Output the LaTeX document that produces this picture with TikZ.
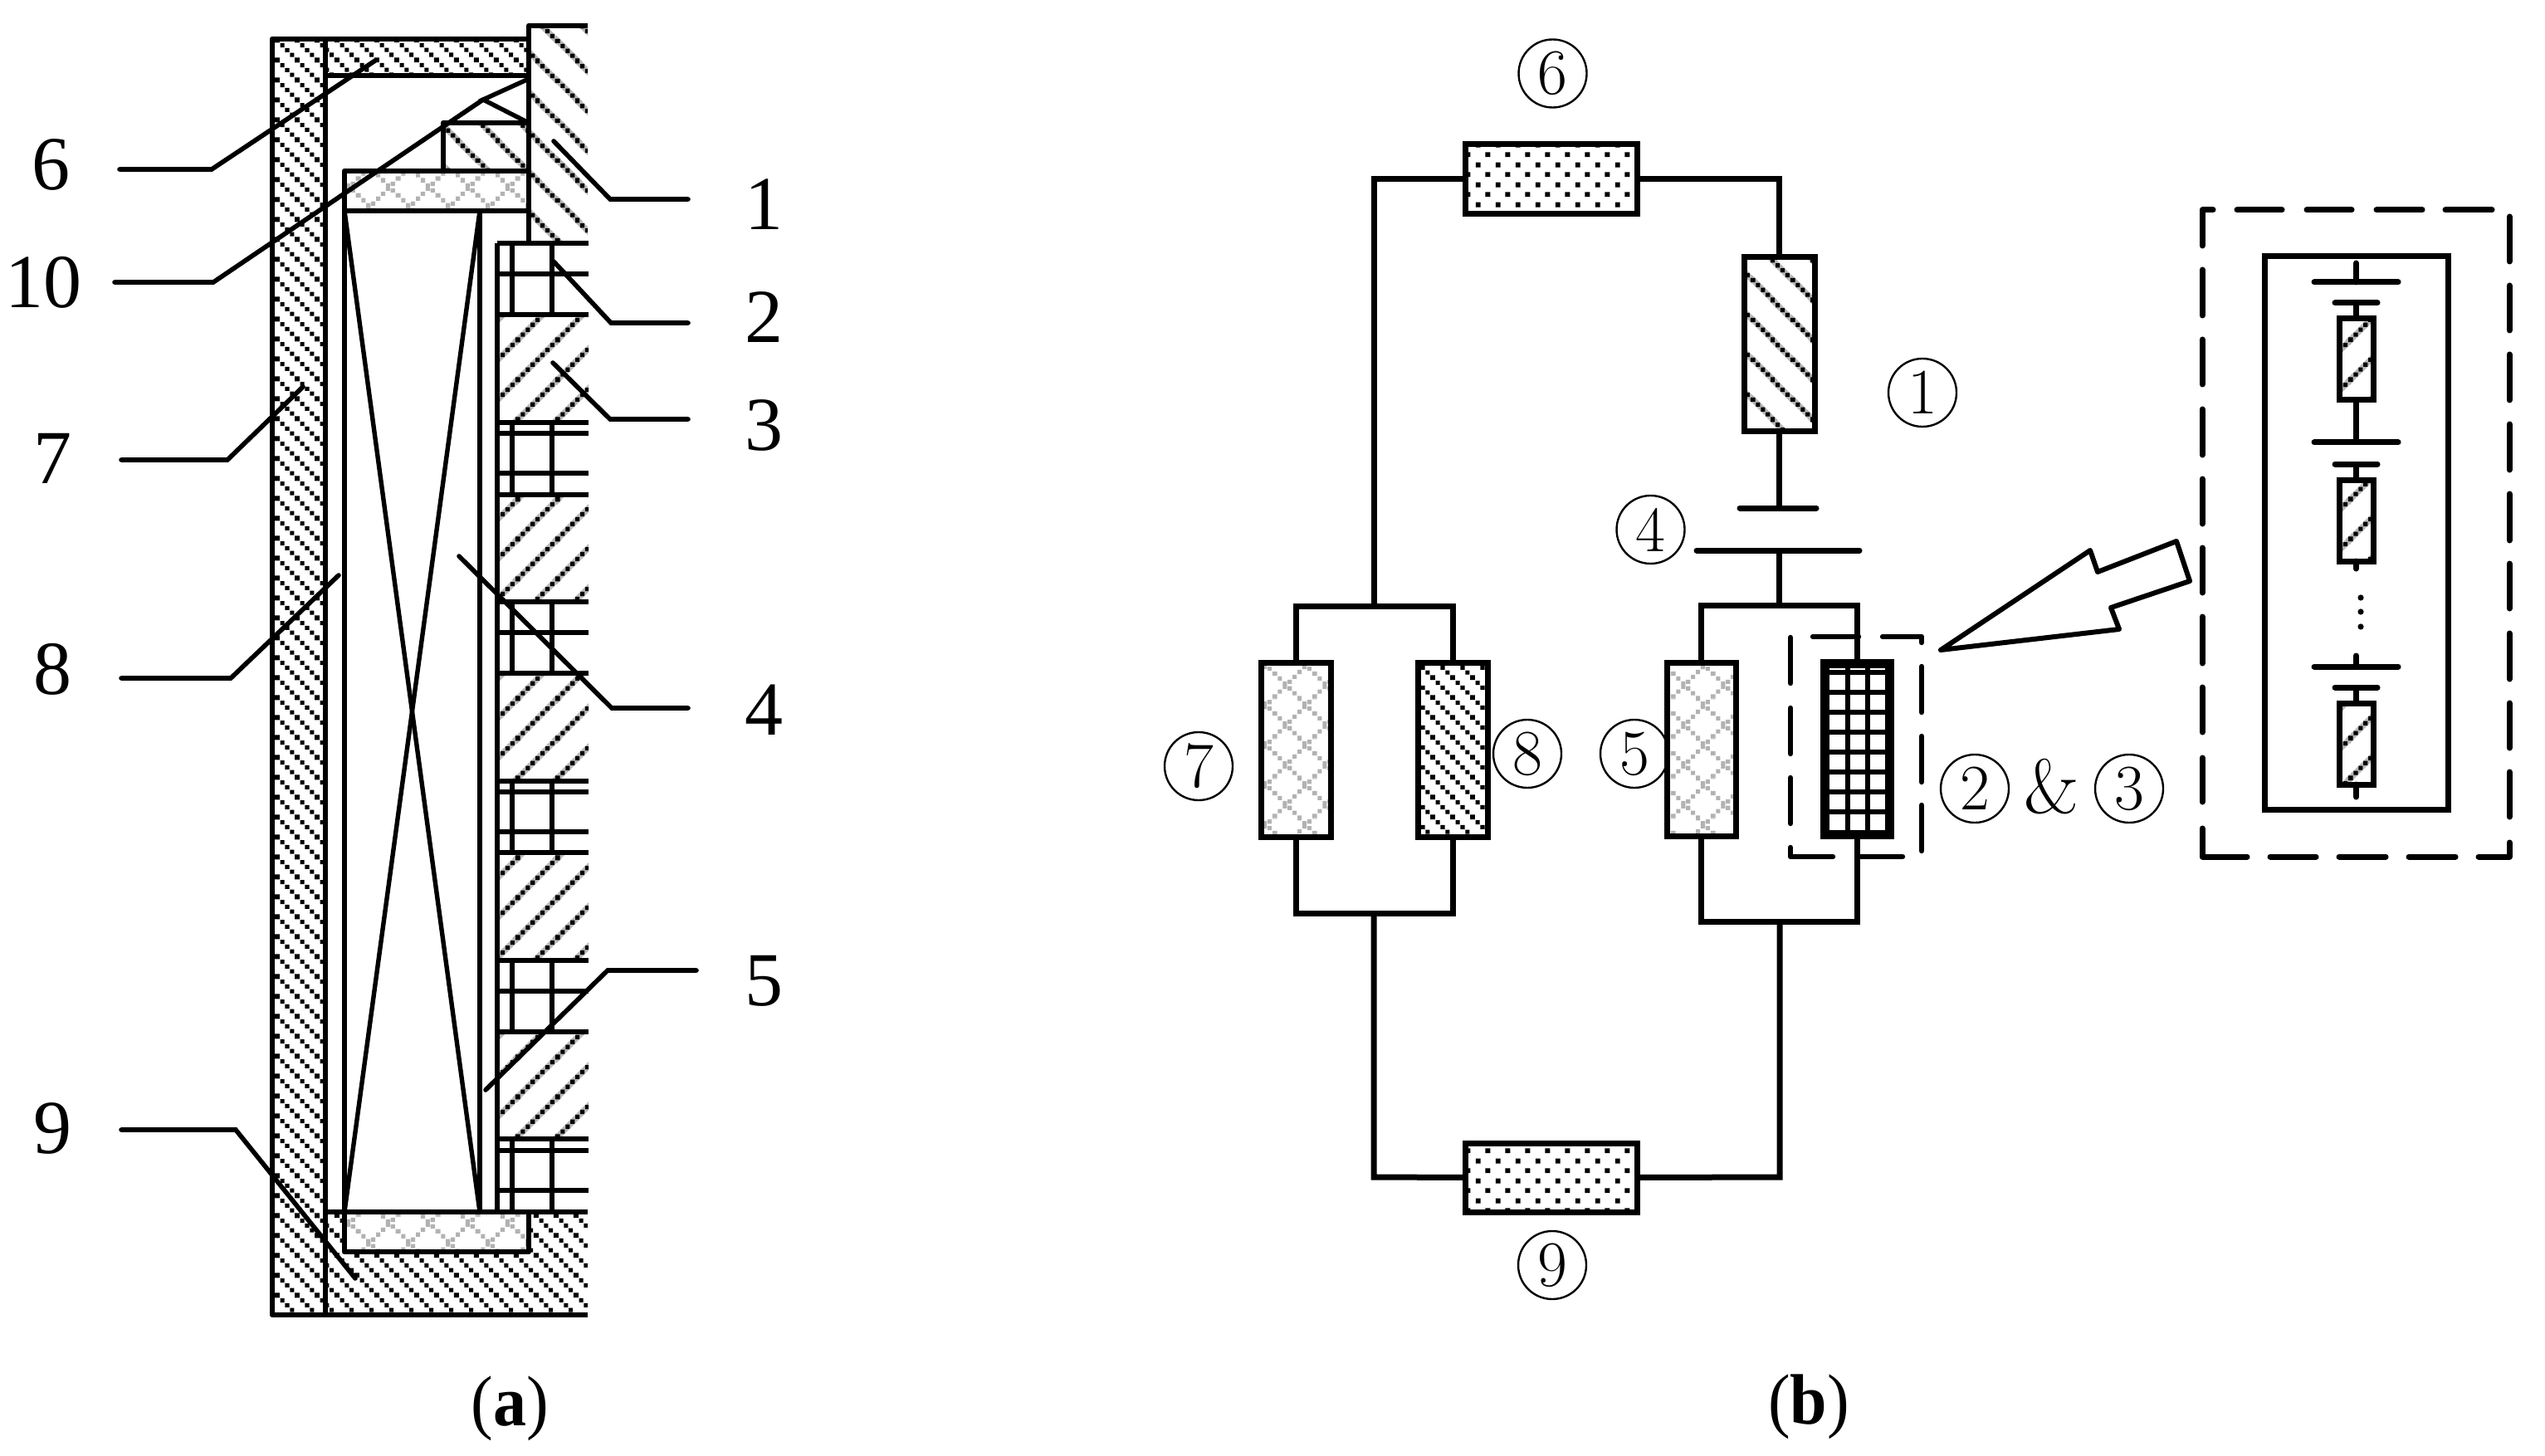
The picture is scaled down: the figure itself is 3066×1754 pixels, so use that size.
\documentclass[tikz,border=0pt]{standalone}
\usepackage{fontspec}
\newfontfamily\timesf{Liberation Serif}
\usetikzlibrary{patterns}
\definecolor{hgray}{gray}{0.72}
\definecolor{xgray}{gray}{0.70}
% phase offsets (px) of the tiles
\def\phU{1}\def\phD{25}\def\phXa{3}\def\phXb{31}\def\phW{0.5}
\newcommand{\tsq}[3]{\pgfpathrectangle{\pgfpoint{(#1-#3/2)*0.5pt}{(#2-#3/2)*0.5pt}}{\pgfpoint{#3*0.5pt}{#3*0.5pt}}}
% up-right hatch, period 48 px
\pgfdeclarepatterninherentlycolored{hatchup}{\pgfpointorigin}{\pgfpoint{24pt}{24pt}}{\pgfpoint{24pt}{24pt}}{%
  \pgfsetstrokecolor{hgray}\pgfsetfillcolor{black}\pgfsetlinewidth{3.6pt}%
  \foreach \p in {-48,0,48}{%
    \pgfpathmoveto{\pgfpoint{-5pt}{(-10+\phU+\p)*0.5pt}}\pgfpathlineto{\pgfpoint{29pt}{(58+\phU+\p)*0.5pt}}\pgfusepath{stroke}%
    \foreach \u in {-6,0,...,54}{\tsq{\u}{\u+\phU+\p}{5.2}}\pgfusepath{fill}}%
}
% down-right hatch, period 48 px
\pgfdeclarepatterninherentlycolored{hatchdown}{\pgfpointorigin}{\pgfpoint{24pt}{24pt}}{\pgfpoint{24pt}{24pt}}{%
  \pgfsetstrokecolor{hgray}\pgfsetfillcolor{black}\pgfsetlinewidth{3.6pt}%
  \foreach \p in {0,48,96}{%
    \pgfpathmoveto{\pgfpoint{-5pt}{(10+\phD+\p)*0.5pt}}\pgfpathlineto{\pgfpoint{29pt}{(-58+\phD+\p)*0.5pt}}\pgfusepath{stroke}%
    \foreach \u in {-6,0,...,54}{\tsq{\u}{\phD+\p-\u}{5.2}}\pgfusepath{fill}}%
}
% dense wall hatch, period 24 px, 6 px steps along each diagonal
\pgfdeclarepatternformonly{wallhatch}{\pgfpointorigin}{\pgfpoint{12pt}{12pt}}{\pgfpoint{12pt}{12pt}}{%
  \foreach \p in {0,24,48}{\foreach \u in {-8,-2,...,34}{\tsq{\u+0.3}{\phW+\p-\u-0.3}{5.2}}}\pgfusepath{fill}%
}
% gray lattice, period 48 px
\pgfdeclarepatternformonly{lattice}{\pgfpointorigin}{\pgfpoint{24pt}{24pt}}{\pgfpoint{24pt}{24pt}}{%
  \foreach \p in {-48,0,48}{\foreach \u in {-6,0,...,54}{\tsq{\u}{\u+\phXa+\p}{5.2}}}\pgfusepath{fill}%
  \foreach \p in {0,48,96}{\foreach \u in {-6,0,...,54}{\tsq{\u}{\phXb+\p-\u}{5.2}}}\pgfusepath{fill}%
}
% dots, 24 px
\pgfdeclarepatternformonly{dotgrid}{\pgfpointorigin}{\pgfpoint{12pt}{12pt}}{\pgfpoint{12pt}{12pt}}{%
  \tsq{17}{8}{6}\tsq{5}{20}{6}\pgfusepath{fill}%
}
\tikzset{
  wire/.style={line width=3.5pt,line join=miter},
  plate/.style={line width=3.5pt,line cap=round},
  compbox/.style={draw=black,line width=3.5pt,inner sep=0pt,outer sep=0pt,rectangle},
  fillwall/.style={pattern=wallhatch,pattern color=black},
  filllat/.style={pattern=lattice,pattern color=xgray},
  fillup/.style={pattern=hatchup},
  filldown/.style={pattern=hatchdown},
  filldot/.style={pattern=dotgrid,pattern color=black},
  circ/.style={circle,draw=black,line width=1.2pt,minimum size=41pt,inner sep=0pt,font=\fontsize{39}{39}\selectfont},
  numlabel/.style={inner sep=0pt,font=\timesf\fontsize{46}{46}\selectfont},
  caplabel/.style={inner sep=0pt,font=\timesf\fontsize{43}{43}\selectfont},
  secthick/.style={line width=3.4pt,line join=round},
  secthin/.style={line width=2.7pt},
  leaderline/.style={line width=2.8pt,line join=miter,line cap=round},
  dashline/.style={line width=3.2pt,line cap=round,line join=round},
  arrowline/.style={line width=3pt,line join=round},
}
\newcommand{\boxnode}[6]{\node[compbox,#6,minimum width={(#4-#2)*0.5pt},minimum height={(#5-#3)*0.5pt}] (#1) at ({(#2+#4)/2},{(#3+#5)/2}) {};}
\newcommand{\leader}[4]{\coordinate (#1a) at (#2);\coordinate (#1b) at (#3);\coordinate (#1c) at (#4);\draw[leaderline] (#1a) -- (#1b) -- (#1c);}
\begin{document}
\begin{tikzpicture}[x=0.5pt,y=-0.5pt]
\useasboundingbox (0,0) rectangle (3066,1754);
\fill[white] (0,0) rectangle (3066,1754);
%% ---------- (a) section ----------
\fill[fillwall] (328,47) rectangle (392,1584);
\fill[fillwall] (392,47) rectangle (637,91);
\fill[fillwall] (392,1460)--(415,1460)--(415,1508)--(637,1508)--(637,1460)--(708,1460)--(708,1584)--(392,1584)--cycle;
\fill[filldown] (637,31)--(708,31)--(708,293)--(637,293)--(637,206)--(534,206)--(534,148)--(637,148)--cycle;
\fill[filllat] (415,206) rectangle (637,254);
\fill[filllat] (415,1460) rectangle (637,1508);
\foreach \a/\b in {379/509,596/725,811/941,1027/1157,1243/1372}{\fill[fillup] (599,\a) rectangle (709,\b);}
% outline
\draw[secthick] (637,47)--(328,47)--(328,1584)--(708,1584);
\draw[secthick] (392,47)--(392,1584);
\draw[secthick] (392,91)--(637,91);
\draw[secthick] (708,31)--(637,31)--(637,293);
\draw[secthick] (637,148)--(534,148)--(534,206);
\draw[secthick] (415,206) rectangle (637,254);
\draw[secthick] (415,254)--(415,1460);
\draw[secthick] (578,254)--(578,1460);
\draw[secthick] (392,1460)--(708,1460);
\draw[secthick] (415,1460)--(415,1508)--(637,1508)--(637,1460);
\draw[secthin] (415,254)--(578,1460);
\draw[secthin] (578,254)--(415,1460);
\draw[secthin] (637,95)--(582,120)--(637,148);
% stacked column
\draw[secthick] (599,293)--(599,1460);
\foreach \y in {293,379,509,596,725,811,941,1027,1157,1243,1372}{\draw[secthick] (599,\y)--(709,\y);}
\foreach \y in {330,522,570,762,954,1002,1194,1386,1434}{\draw[secthin] (599,\y)--(709,\y);}
\foreach \a/\b in {293/379,509/596,725/811,941/1027,1157/1243,1372/1460}{\draw[secthin] (617,\a)--(617,\b);\draw[secthin] (665,\a)--(665,\b);}
% leaders
\leader{la}{144,204}{255,204}{452,73}
\leader{lb}{138,340}{257,340}{582,120}
\leader{lc}{146,554}{274,554}{365,466}
\leader{ld}{146,817}{278,817}{408,693}
\leader{le}{146,1361}{284,1361}{428,1540}
\leader{lf}{829,240}{735,240}{667,170}
\leader{lg}{829,389}{736,389}{667,315}
\leader{lh}{829,505}{735,505}{666,437}
\leader{li}{829,853}{737,853}{553,670}
\leader{lj}{839,1169}{732,1169}{585,1313}
% labels
\node[numlabel] (t6) at (62,198) {6};
\node[numlabel] (t10) at (52,340) {10};
\node[numlabel] (t7) at (63,552) {7};
\node[numlabel] (t8) at (63,806) {8};
\node[numlabel] (t9) at (63,1359) {9};
\node[numlabel] (t1) at (920,246) {1};
\node[numlabel] (t2) at (920,382) {2};
\node[numlabel] (t3) at (920,512) {3};
\node[numlabel] (t4) at (920,855) {4};
\node[numlabel] (t5) at (920,1182) {5};
\node[caplabel] (capa) at (614,1697) {\scalebox{0.93}[1]{(\textbf{a})}};
\node[caplabel] (capb) at (2179,1695) {\scalebox{0.93}[1]{(\textbf{b})}};
%% ---------- (b) circuit ----------
\coordinate (tl) at (1655,216);
\coordinate (tr) at (2143.5,216);
\coordinate (bl) at (1655,1418);
\coordinate (br) at (2144,1418);
\coordinate (railLt) at (1655,730);
\coordinate (railLb) at (1655,1100);
\coordinate (railRt) at (2143.5,729);
\coordinate (railRb) at (2144,1110);
\coordinate (capS) at (2143.5,612);
\coordinate (capL) at (2143.5,663);
\boxnode{b6}{1765}{174}{1972.5}{258}{filldot}
\boxnode{b9}{1765}{1377}{1972}{1460}{filldot}
\boxnode{b1}{2101}{310}{2186}{520}{filldown}
\boxnode{b7}{1519}{798}{1603}{1008}{filllat}
\boxnode{b8}{1708}{798}{1792}{1008}{fillwall}
\boxnode{b5}{2008}{798}{2091}{1007}{filllat}
\boxnode{b23}{2198}{799}{2276}{1005}{line width=5.5pt}
\foreach \y in {810,834,858,882,906,930,954,978}{\draw[line width=3pt] (2198,\y)--(2276,\y);}
\foreach \x in {2225.5,2249.5}{\draw[line width=3pt] (\x,799)--(\x,1005);}
\draw[wire] (b6.west) -- (tl) -- (railLt);
\draw[wire] (b6.east) -- (tr) -- (b1.north);
\draw[wire] (b1.south) -- (capS);
\draw[plate] (2096,612) -- (2188,612);
\draw[plate] (2044,663) -- (2240,663);
\draw[wire] (capL) -- (railRt);
\draw[wire] (b7.north) -- (b7.north |- railLt) -- (b8.north |- railLt) -- (b8.north);
\draw[wire] (b7.south) -- (b7.south |- railLb) -- (b8.south |- railLb) -- (b8.south);
\draw[wire] (b5.north) -- (b5.north |- railRt) -- (b23.north |- railRt) -- (b23.north);
\draw[wire] (b5.south) -- (b5.south |- railRb) -- (b23.south |- railRb) -- (b23.south);
\draw[wire] (railLb) -- (bl) -- (b9.west);
\draw[wire] (b9.east) -- (br) -- (railRb);
% small dashed frame
\draw[dashline] (2184,767)--(2239,767) (2268,767)--(2315,767)--(2315,774)
  (2315,803)--(2315,858) (2315,887)--(2315,942) (2315,970)--(2315,1025)
  (2292,1032)--(2239,1032) (2208,1032)--(2157,1032)--(2157,1021)
  (2157,992)--(2157,937) (2157,908)--(2157,853) (2157,823)--(2157,768);
% zoom arrow
\draw[arrowline] (2338,783)--(2518,663)--(2527,689)--(2622,652)--(2638,700)--(2543,732)--(2553,758)--cycle;
% large dashed frame
\draw[dashline,line width=3.5pt] (2666,253)--(2653,253)--(2653,296)
  (2695,253)--(2749,253) (2779,253)--(2833,253) (2863,253)--(2918,253) (2946,253)--(3002,253)
  (3023,261)--(3023,315) (3023,344)--(3023,398) (3023,427)--(3023,482) (3023,511)--(3023,566)
  (3023,595)--(3023,651) (3023,679)--(3023,733) (3023,763)--(3023,818) (3023,847)--(3023,901)
  (3023,930)--(3023,984) (3023,1015)--(3023,1032)--(2986,1032)
  (2958,1032)--(2902,1032) (2874,1032)--(2818,1032) (2790,1032)--(2735,1032)
  (2707,1032)--(2653,1032)--(2653,998)
  (2653,966)--(2653,913) (2653,882)--(2653,828) (2653,799)--(2653,743) (2653,714)--(2653,660)
  (2653,631)--(2653,577) (2653,548)--(2653,493) (2653,463)--(2653,409) (2653,380)--(2653,325);
% inner detail
\node[compbox,minimum width=110.5pt,minimum height=333pt] (frame) at (2838.5,642) {};
\boxnode{u1}{2818}{383.5}{2859}{481.5}{fillup}
\boxnode{u2}{2818}{578}{2859}{676}{fillup}
\boxnode{u3}{2818}{847}{2859}{945}{fillup}
\draw[plate] (2838.5,317)--(2838.5,340);
\draw[plate] (2788,340)--(2889,340);
\draw[plate] (2813,365)--(2864,365);
\draw[wire] (2838.5,365)--(u1.north);
\draw[wire] (u1.south)--(2838.5,533);
\draw[plate] (2788,533)--(2889,533);
\draw[plate] (2813,559)--(2864,559);
\draw[wire] (2838.5,559)--(u2.north);
\draw[plate] (u2.south)--(2838.5,685);
\foreach \y in {720,737,755}{\fill (2844,\y) circle (3.6);}
\draw[plate] (2838.5,790)--(2838.5,803);
\draw[plate] (2788,803)--(2889,803);
\draw[plate] (2813,828)--(2864,828);
\draw[wire] (2838.5,828)--(u3.north);
\draw[plate] (u3.south)--(2838.5,960);
% circled labels
\node[circ] (c6) at (1870.5,88.5) {6};
\node[circ] (c1) at (2316,473) {1};
\node[circ] (c4) at (1988.5,638) {4};
\node[circ] (c7) at (1444,923) {7};
\node[circ] (c8) at (1840,908) {8};
\node[circ] (c5) at (1969,908) {5};
\node[circ] (c9) at (1870,1524) {9};
\node[circ] (c2) at (2379,950) {2};
\node[inner sep=0pt,font=\fontsize{46}{46}\selectfont] (amp) at (2471.5,948) {\&};
\node[circ] (c3) at (2565,950) {3};
\end{tikzpicture}
\end{document}
